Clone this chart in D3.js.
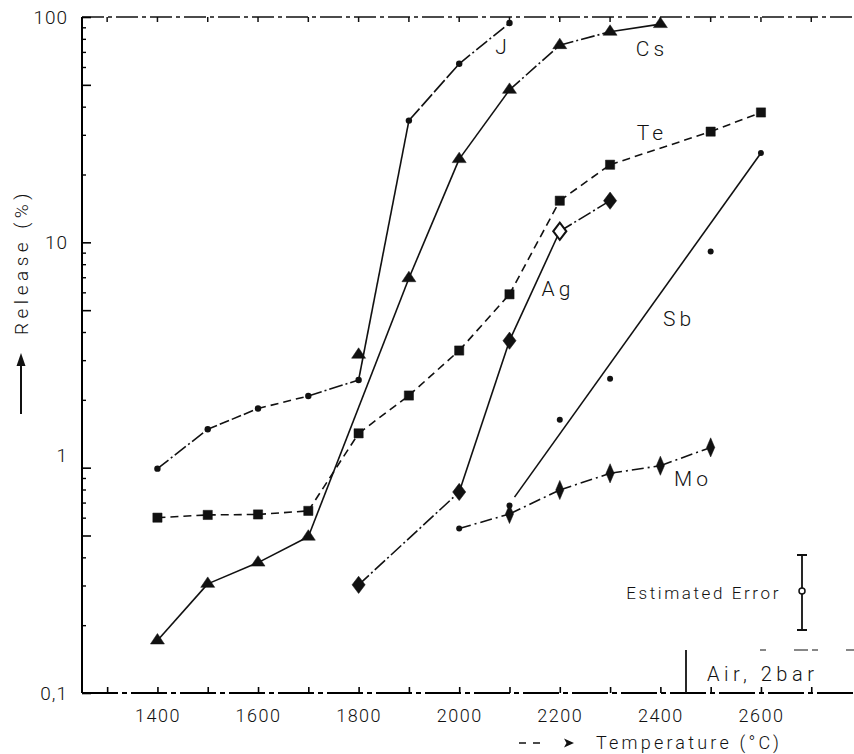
<!DOCTYPE html>
<html>
<head>
<meta charset="utf-8">
<script src="https://cdn.jsdelivr.net/npm/d3@7/dist/d3.min.js"></script>
<style>
  body { margin: 0; background: #fff; }
  text { font-family: Roboto, 'DejaVu Sans', sans-serif; font-weight: 300; fill: #111; }
</style>
</head>
<body>
<script>
// release (%) of each element vs temperature (°C)
var jTemps = [1400, 1500, 1600, 1700, 1800, 1900, 2000, 2100];
var jValues = [0.99, 1.48, 1.83, 2.08, 2.45, 34.7, 62, 94];

var csTemps = [1400, 1500, 1600, 1700, 1800, 1900, 2000, 2100, 2200, 2300, 2400];
var csValues = [0.171, 0.305, 0.379, 0.494, 3.17, 6.93, 23.4, 47.5, 75, 86, 93];
var csOffLine = [1800];

var teTemps = [1400, 1500, 1600, 1700, 1800, 1900, 2000, 2100, 2200, 2300, 2500, 2600];
var teValues = [0.60, 0.617, 0.62, 0.643, 1.42, 2.09, 3.31, 5.88, 15.3, 22.1, 31, 37.7];

var agTemps = [1800, 2000, 2100, 2200, 2300];
var agValues = [0.302, 0.78, 3.66, 11.2, 15.3];
var agOpen = [2200];

var sbTemps = [2000, 2100, 2200, 2300, 2500, 2600];
var sbValues = [0.537, 0.68, 1.63, 2.48, 9.1, 24.9];
var sbFitTemps = [2110, 2600];
var sbFitValues = [0.74, 24.9];

var moTemps = [2100, 2200, 2300, 2400, 2500];
var moValues = [0.623, 0.796, 0.944, 1.02, 1.23];

var xTicks = d3.range(1300, 2701, 100);
var xLabels = [1400, 1600, 1800, 2000, 2200, 2400, 2600];
var yLabels = [0.1, 1, 10, 100];

var W = 854, H = 754;
var svg = d3.select('body').append('svg').attr('width', W).attr('height', H);

var x = d3.scaleLinear().domain([1250, 2785]).range([82, 854]);
var y = d3.scaleLog().domain([0.1, 100]).range([693, 17]);

// dash patterns
var DASHDOT = '14,3,2,3';
var DASH = '8,5';
var SOLID = null;

function zip(t, v) {
  return t.map(function(d, i) { return [d, v[i]]; });
}

var line = d3.line()
  .x(function(d) { return x(d[0]); })
  .y(function(d) { return y(d[1]); });

// draw a polyline segment by segment so each piece can get its own dash
function drawSegments(pts, dashes) {
  for (var i = 0; i < pts.length - 1; i++) {
    svg.append('path')
      .attr('d', line([pts[i], pts[i + 1]]))
      .attr('fill', 'none')
      .attr('stroke', '#111')
      .attr('stroke-width', 1.6)
      .attr('stroke-dasharray', dashes[i]);
  }
}

// ---- axes ----
// bottom
var xAxis = d3.axisBottom(x)
  .tickValues(xTicks)
  .tickSize(-6)
  .tickPadding(16)
  .tickFormat(function(d) { return xLabels.indexOf(d) >= 0 ? d : ''; });

var gx = svg.append('g').attr('transform', 'translate(0,693)').call(xAxis);
gx.select('.domain').attr('stroke-width', 2).attr('stroke-dasharray', '36,4,5,4').attr('d', 'M82,0H854');
gx.selectAll('.tick line').attr('stroke-width', 1.6);
gx.selectAll('.tick text')
  .style('font-size', '18px')
  .style('letter-spacing', '1.5px')
  .attr('font-family', null);

// top border with downward ticks
svg.append('path')
  .attr('d', 'M82,17H854')
  .attr('stroke', '#111')
  .attr('stroke-width', 1.6)
  .attr('stroke-dasharray', '22,4,4,4');
svg.selectAll('.topTick')
  .data(xTicks)
  .enter()
  .append('line')
  .attr('x1', function(d) { return x(d); })
  .attr('x2', function(d) { return x(d); })
  .attr('y1', 17)
  .attr('y2', 22)
  .attr('stroke', '#111')
  .attr('stroke-width', 1.5);

// left: minor ticks, longer ticks at 1 and 5, labels at decades
var minor = [], major = [];
[0.1, 1, 10].forEach(function(dec) {
  for (var k = 1; k < 10; k++) {
    if (k === 1 || k === 5) major.push(dec * k); else minor.push(dec * k);
  }
});
major.push(100);

var gyMinor = svg.append('g').attr('transform', 'translate(82,0)')
  .call(d3.axisLeft(y).tickValues(minor).tickSize(-4).tickFormat(''));
var gy = svg.append('g').attr('transform', 'translate(82,0)')
  .call(d3.axisLeft(y).tickValues(major).tickSize(-9).tickPadding(14)
    .tickFormat(function(d) {
      if (yLabels.indexOf(d) < 0) return '';
      return d === 0.1 ? '0,1' : d3.format('d')(d);
    }));
gyMinor.select('.domain').remove();
gy.select('.domain').attr('stroke-width', 2).attr('d', 'M0,17V693');
gy.selectAll('.tick line').attr('stroke-width', 1.6);
gyMinor.selectAll('.tick line').attr('stroke-width', 1.4);
gy.selectAll('.tick text')
  .style('font-size', '19px')
  .style('letter-spacing', '1px')
  .attr('font-family', null)
  .attr('dy', function(d) { return d === 1 ? '-0.35em' : '0.32em'; });

// axis titles
svg.append('text')
  .attr('transform', 'translate(28,262) rotate(-90)')
  .attr('text-anchor', 'middle')
  .style('font-size', '19px')
  .style('letter-spacing', '4.5px')
  .text('Release (%)');

svg.append('line')
  .attr('x1', 21).attr('x2', 21).attr('y1', 414).attr('y2', 362)
  .attr('stroke', '#111').attr('stroke-width', 2);
svg.append('path')
  .attr('d', 'M21,353L16.5,366L25.5,366Z')
  .attr('fill', '#111');

svg.append('path')
  .attr('d', 'M519,743H526M533,743H540')
  .attr('stroke', '#111').attr('stroke-width', 1.3);
svg.append('path')
  .attr('d', 'M574,743L564,738.5L566.5,743L564,747.5Z')
  .attr('fill', '#111');
svg.append('text')
  .attr('x', 596).attr('y', 749)
  .style('font-size', '18px')
  .style('letter-spacing', '3.2px')
  .text('Temperature (°C)');

// ---- series lines ----
var jPts = zip(jTemps, jValues);
drawSegments(jPts, [DASHDOT, '10,3', DASH, DASHDOT, SOLID, '16,3', DASHDOT]);

var csPts = zip(csTemps, csValues).filter(function(d) { return csOffLine.indexOf(d[0]) < 0; });
drawSegments(csPts, [SOLID, SOLID, SOLID, SOLID, SOLID, SOLID, DASHDOT, DASHDOT, SOLID]);

var tePts = zip(teTemps, teValues);
drawSegments(tePts, tePts.map(function() { return DASH; }));

var agPts = zip(agTemps, agValues);
drawSegments(agPts, [DASHDOT, SOLID, SOLID, DASHDOT]);

// Sb fitted line
drawSegments(zip(sbFitTemps, sbFitValues), [SOLID]);

// Mo line, starting from the first Sb point
var moPts = [[sbTemps[0], sbValues[0]]].concat(zip(moTemps, moValues));
drawSegments(moPts, moPts.map(function() { return '12,4,2,4'; }));

// ---- markers ----
function drawDots(pts, r) {
  svg.append('g').selectAll('circle')
    .data(pts)
    .enter()
    .append('circle')
    .attr('cx', function(d) { return x(d[0]); })
    .attr('cy', function(d) { return y(d[1]); })
    .attr('r', r)
    .attr('fill', '#111');
}

function drawSymbols(pts, type, size, sx, sy, openList) {
  svg.append('g').selectAll('path')
    .data(pts)
    .enter()
    .append('path')
    .attr('d', d3.symbol().type(type).size(size))
    .attr('transform', function(d) {
      return 'translate(' + x(d[0]) + ',' + y(d[1]) + ') scale(' + sx + ',' + sy + ')';
    })
    .attr('fill', function(d) { return openList && openList.indexOf(d[0]) >= 0 ? '#fff' : '#111'; })
    .attr('stroke', '#111')
    .attr('stroke-width', function(d) { return openList && openList.indexOf(d[0]) >= 0 ? 1.8 : 0.5; });
}

drawDots(jPts, 3.2);
drawDots(zip(sbTemps, sbValues), 3);
drawSymbols(zip(csTemps, csValues), d3.symbolTriangle, 70, 1.1, 0.95);
drawSymbols(tePts, d3.symbolSquare, 85, 1, 1);
drawSymbols(agPts, d3.symbolDiamond, 95, 1.25, 0.95, agOpen);
drawSymbols(zip(moTemps, moValues), d3.symbolDiamond, 80, 0.85, 1.15);

// ---- series labels ----
var labels = [
  ['J', 503, 54], ['Cs', 652, 56], ['Te', 652, 140],
  ['Ag', 558, 296], ['Sb', 679, 326], ['Mo', 693, 486]
];
svg.selectAll('.lab')
  .data(labels)
  .enter()
  .append('text')
  .attr('x', function(d) { return d[1]; })
  .attr('y', function(d) { return d[2]; })
  .attr('text-anchor', 'middle')
  .style('font-size', '21px')
  .style('letter-spacing', '4px')
  .text(function(d) { return d[0]; });

// ---- estimated error ----
var ex = 802;
svg.append('path')
  .attr('d', 'M' + ex + ',555V630M' + (ex - 5) + ',555H' + (ex + 5) + 'M' + (ex - 5) + ',630H' + (ex + 5))
  .attr('stroke', '#111').attr('stroke-width', 1.8).attr('fill', 'none');
svg.append('circle')
  .attr('cx', ex).attr('cy', 591).attr('r', 3)
  .attr('fill', '#fff').attr('stroke', '#111').attr('stroke-width', 1.5);
svg.append('text')
  .attr('x', 781).attr('y', 599)
  .attr('text-anchor', 'end')
  .style('font-size', '17px')
  .style('letter-spacing', '2.6px')
  .text('Estimated Error');

// ---- atmosphere box ----
svg.append('line')
  .attr('x1', 686).attr('x2', 686).attr('y1', 650).attr('y2', 693)
  .attr('stroke', '#111').attr('stroke-width', 1.8);
svg.append('path')
  .attr('d', 'M760,650H854')
  .attr('stroke', '#111').attr('stroke-width', 1.2).attr('stroke-dasharray', '6,28,14,4');
svg.append('text')
  .attr('x', 707).attr('y', 681)
  .style('font-size', '20px')
  .style('letter-spacing', '4.5px')
  .text('Air, 2bar');
</script>
</body>
</html>
